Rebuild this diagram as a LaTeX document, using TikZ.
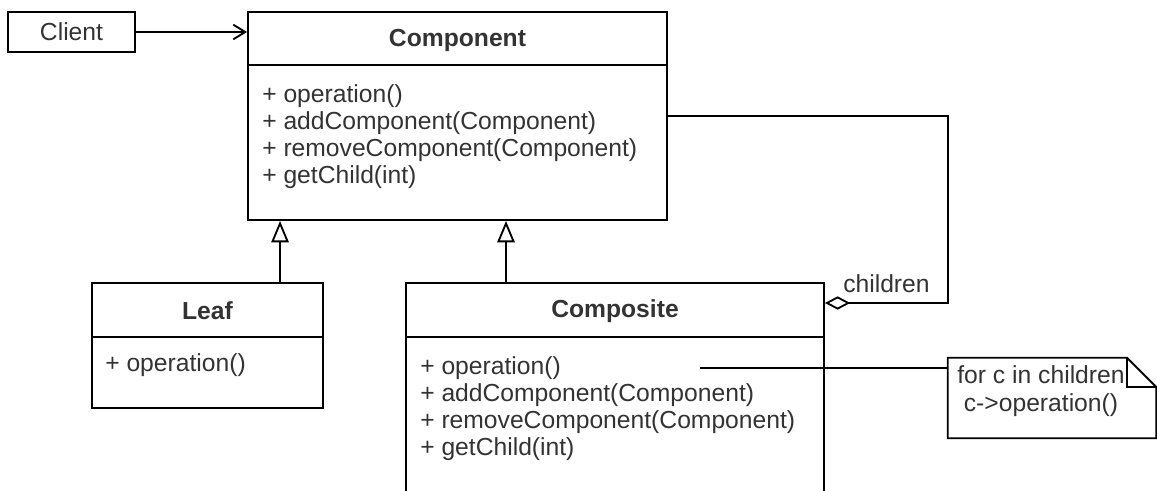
\documentclass[tikz,border=0pt]{standalone}
\usepackage{fontspec}
\setmainfont{Liberation Sans}
\usetikzlibrary{arrows.meta,positioning}

\tikzset{
  umlbox/.style={draw, line width=1.4pt, inner sep=0pt},
  classname/.style={font=\bfseries\fontsize{18.5}{21}\selectfont, text=black!80, inner sep=0pt},
  members/.style={font=\fontsize{18.5}{20.4}\selectfont, text=black!80, align=left, anchor=north west, inner sep=0pt},
  plaintext/.style={font=\fontsize{18.5}{21}\selectfont, text=black!80, inner sep=0pt},
  link/.style={line width=1.4pt},
  inherit/.style={link, -{Triangle[open, length=16pt, width=13pt]}},
  uses/.style={link, -{Straight Barb[length=9pt, width=11pt]}},
  aggr/.style={link, -{Diamond[open, length=19pt, width=10pt]}},
}

\begin{document}
\begin{tikzpicture}[x=0.75pt, y=-0.75pt]
  \useasboundingbox (0,0) rectangle (1157,491);
  \clip (0,0) rectangle (1157,491);

  % client
  \node[umlbox, plaintext, draw, minimum width=95.25pt, minimum height=30pt] (client) at (71.5,32) {Client};

  % component
  \node[umlbox, minimum width=314.25pt, minimum height=156pt] (component) at (457.5,116) {};
  \node[classname] (componentname) at (457.5,40) {Component};
  \draw[link] ([yshift=-40.5pt]component.north west) -- ([yshift=-40.5pt]component.north east);
  \node[members] (componentops) at (262,84) {+ operation()\\+ addComponent(Component)\\+ removeComponent(Component)\\+ getChild(int)};

  % leaf
  \node[umlbox, minimum width=173.25pt, minimum height=93.75pt] (leaf) at (207.5,345.5) {};
  \node[classname] (leafname) at (207.5,311) {Leaf};
  \draw[link] ([yshift=-41.25pt]leaf.north west) -- ([yshift=-41.25pt]leaf.north east);
  \node[members] (leafops) at (105,353) {+ operation()};

  % composite
  \node[umlbox, minimum width=313.5pt, minimum height=170.25pt] (composite) at (615,396.5) {};
  \node[classname] (compositename) at (615,311) {Composite};
  \draw[link] ([yshift=-41.25pt]composite.north west) -- ([yshift=-41.25pt]composite.north east);
  \node[members] (compositeops) at (420,356) {+ operation()\\+ addComponent(Component)\\+ removeComponent(Component)\\+ getChild(int)};

  % note
  \node[minimum width=156pt, minimum height=60pt, inner sep=0pt] (note) at (1052,398) {};
  \draw[link] (note.north west) -- ([xshift=-22pt]note.north east) -- ([yshift=-22pt]note.north east) -- (note.south east) -- (note.south west) -- cycle;
  \draw[link] ([xshift=-22pt]note.north east) -- ([xshift=-22pt, yshift=-22pt]note.north east) -- ([yshift=-22pt]note.north east);
  \node[plaintext, align=center] (notetext) at (1041,391) {for c in children\\c->operation()};

  % connectors
  \draw[uses] (client.east) -- (client.east -| component.west);
  \draw[inherit] ([xshift=54.4pt]leaf.north) -- ([xshift=54.4pt]leaf.north |- component.south);
  \draw[inherit] ([xshift=-81.75pt]composite.north) -- ([xshift=-81.75pt]composite.north |- component.south);

  \coordinate (turn) at (948,303);
  \draw[aggr] (component.east) -| (turn) -- (turn -| composite.east);
  \node[plaintext, anchor=base west] (childrenlabel) at (843,293) {children};

  \coordinate (opend) at (700,368);
  \draw[link] (opend) -- (opend -| note.west);
\end{tikzpicture}
\end{document}
